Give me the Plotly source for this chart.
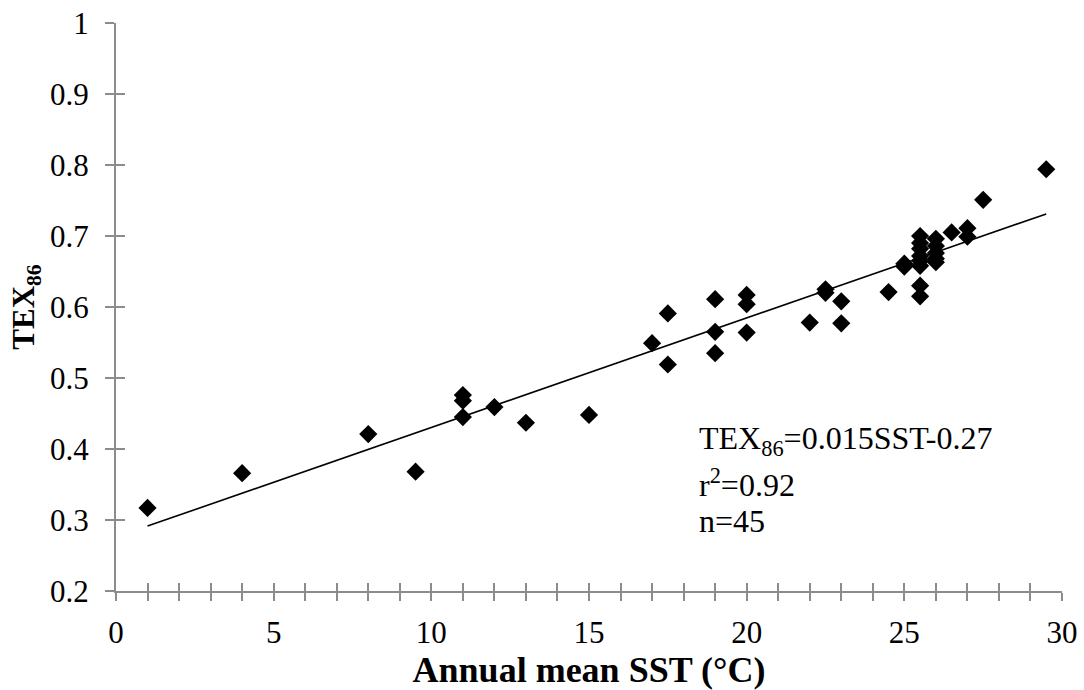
import numpy as np
import plotly.graph_objects as go

# Data
sst = [1, 4, 8, 9.5, 11, 11, 11, 12, 13, 15, 17, 17.5, 17.5, 19, 19, 19,
       20, 20, 20, 22, 22.5, 22.5, 23, 23, 24.5, 25, 25,
       25.5, 25.5, 25.5, 25.5, 25.5, 25.5, 25.5, 25.5,
       26, 26, 26, 26, 26, 26.5, 27, 27, 27.5, 29.5]
tex86 = [0.317, 0.366, 0.421, 0.368, 0.476, 0.468, 0.445, 0.459, 0.437, 0.448,
         0.549, 0.591, 0.519, 0.611, 0.565, 0.535,
         0.617, 0.604, 0.564, 0.578, 0.625, 0.620, 0.608, 0.577, 0.621, 0.661, 0.657,
         0.700, 0.690, 0.682, 0.672, 0.665, 0.658, 0.630, 0.615,
         0.696, 0.686, 0.676, 0.668, 0.663, 0.705, 0.711, 0.699, 0.751, 0.794]

x_ticks = [0, 5, 10, 15, 20, 25, 30]
y_ticks = [0.2, 0.3, 0.4, 0.5, 0.6, 0.7, 0.8, 0.9, 1.0]
y_ticktext = ["0.2", "0.3", "0.4", "0.5", "0.6", "0.7", "0.8", "0.9", "1"]

eq_lines = ["TEX<sub>86</sub>=0.015SST-0.27", "r<sup>2</sup>=0.92", "n=45"]

# regression line from the data
slope, intercept = np.polyfit(sst, tex86, 1)
fit_x = np.array([min(sst), max(sst)])
fit_y = slope * fit_x + intercept

FONT = "Liberation Serif, Times New Roman, serif"
AX = "#8c8c8c"

fig = go.Figure()
fig.add_trace(go.Scatter(x=fit_x, y=fit_y, mode="lines",
                         line=dict(color="black", width=1.6), showlegend=False,
                         hoverinfo="skip"))
fig.add_trace(go.Scatter(x=sst, y=tex86, mode="markers",
                         marker=dict(symbol="diamond", size=14, color="black",
                                     line=dict(width=0)),
                         showlegend=False))
# dummy trace for overlay axes (inner halves of tick marks)
fig.add_trace(go.Scatter(x=[], y=[], xaxis="x2", yaxis="y2", showlegend=False))

fig.update_layout(
    width=1084, height=690,
    margin=dict(l=116, r=22, t=23, b=99),
    paper_bgcolor="white", plot_bgcolor="white",
    font=dict(family=FONT, color="black"),
    xaxis=dict(range=[0, 30], tickvals=x_ticks, ticktext=[str(v) for v in x_ticks],
               automargin=False,
               showgrid=False, zeroline=False, showline=True, linecolor=AX, linewidth=2,
               ticks="outside", ticklen=8, tickwidth=1.5, tickcolor=AX,
               minor=dict(dtick=1, ticks="outside", ticklen=8, tickwidth=1.5, tickcolor=AX),
               tickfont=dict(size=31, family=FONT), ticklabelstandoff=5,
               title=dict(text="<b>Annual mean SST (°C)</b>", font=dict(size=36, family=FONT),
                          standoff=10)),
    yaxis=dict(range=[0.2, 1.0], tickvals=y_ticks, ticktext=y_ticktext,
               automargin=False,
               showgrid=False, zeroline=False, showline=True, linecolor=AX, linewidth=2,
               ticks="outside", ticklen=9, tickwidth=1.5, tickcolor=AX,
               tickfont=dict(size=31, family=FONT), ticklabelstandoff=10,
               title=dict(text="<b>TEX<sub>86</sub></b>", font=dict(size=31, family=FONT),
                          standoff=6)),
    xaxis2=dict(range=[0, 30], overlaying="x", anchor="y2", side="bottom",
                dtick=1, tick0=0, ticks="inside", ticklen=8, tickwidth=1.5, tickcolor=AX,
                showticklabels=False, showgrid=False, zeroline=False, showline=False),
    yaxis2=dict(range=[0.2, 1.0], overlaying="y", anchor="x2", side="left",
                dtick=0.1, tick0=0.2, ticks="inside", ticklen=9, tickwidth=1.5, tickcolor=AX,
                showticklabels=False, showgrid=False, zeroline=False, showline=False),
)

ys = [0.412, 0.352, 0.298]
for txt, yv in zip(eq_lines, ys):
    fig.add_annotation(x=18.42, y=yv, xref="x", yref="y", text=txt, showarrow=False,
                       xanchor="left", yanchor="middle",
                       font=dict(size=32, family=FONT, color="black"))

fig.write_html("out.html")
